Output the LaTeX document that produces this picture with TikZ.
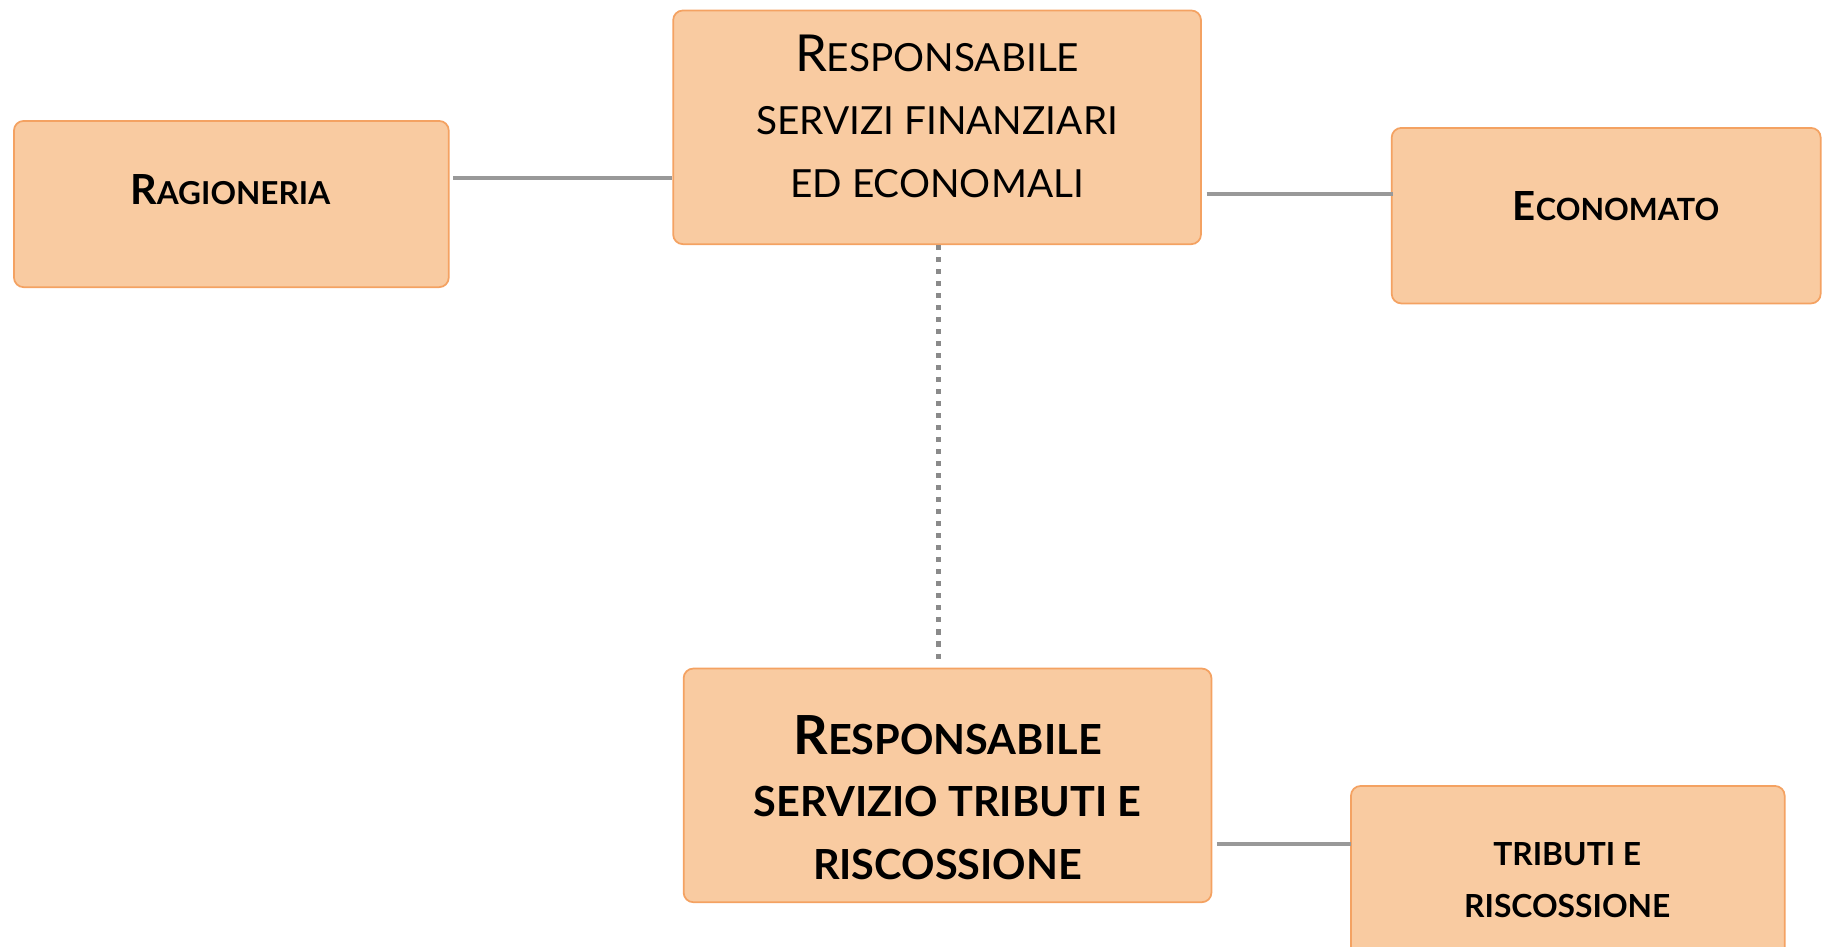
\documentclass[tikz,border=0pt]{standalone}
\usepackage{fontspec}
\setmainfont{Lato}
\usepackage{tikz}
\usetikzlibrary{positioning}
\usetikzlibrary{calc}

\definecolor{boxfill}{HTML}{F9CBA1}
\definecolor{boxline}{HTML}{F4A262}
\definecolor{linkgray}{HTML}{999999}

\tikzset{
  box/.style={draw=boxline, fill=boxfill, line width=0.9pt, rounded corners=5pt, inner sep=0pt},
  txt/.style={align=center, inner sep=0pt},
  link/.style={draw=linkgray, line width=2.4pt},
  duty/.style={draw=linkgray!90!black, line width=2.4pt, dash pattern=on 2.6pt off 3.6pt}
}

\begin{document}
\begin{tikzpicture}[x=0.6pt, y=-0.6pt]
\useasboundingbox (0,0) rectangle (1568,814);
% boxes
\node[box, minimum width=224.4pt, minimum height=85.8pt] (rag) at (199,175.5) {};
\node[box, minimum width=272.4pt, minimum height=120.6pt] (top) at (806,109.5) {};
\node[box, minimum width=221.4pt, minimum height=90.6pt] (eco) at (1381.5,185.5) {};
\node[box, minimum width=272.4pt, minimum height=120.6pt] (bot) at (815,675.5) {};
\node[box, minimum width=223.8pt, minimum height=92.4pt] (trib) at (1348.5,753) {};
% texts
\node[txt, font=\bfseries\fontsize{21.4}{28}\selectfont] (ragtxt) at (198,163) {R{\fontsize{16.3}{28}\selectfont AGIONERIA}};
\node[txt, font=\fontsize{26.3}{32.4}\selectfont] (toptxt) at (806,100) {R{\fontsize{20}{32.4}\selectfont ESPONSABILE}\\
  {\fontsize{20}{32.4}\selectfont SERVIZI FINANZIARI}\\
  {\fontsize{20}{32.4}\selectfont ED ECONOMALI}};
\node[txt, font=\bfseries\fontsize{20.7}{28}\selectfont] (ecotxt) at (1390,177) {E{\fontsize{15.8}{28}\selectfont CONOMATO}};
\node[txt, font=\bfseries\fontsize{27.8}{32.1}\selectfont] (bottxt) at (815,686) {R{\fontsize{21.4}{32.1}\selectfont ESPONSABILE}\\
  {\fontsize{21.4}{32.1}\selectfont SERVIZIO TRIBUTI E}\\
  {\fontsize{21.4}{32.1}\selectfont RISCOSSIONE}};
\node[txt, font=\bfseries\fontsize{16.4}{26.4}\selectfont] (tribtxt) at (1348,757) {TRIBUTI E\\ RISCOSSIONE};
% connectors
\draw[link] ($(rag.east)+(3,-22.5)$) -- ($(top.west)+(0,43.5)$);
\draw[link] ($(top.east)+(4,57.5)$) -- ($(eco.west)+(2,-18.5)$);
\draw[duty] ($(top.south)+(1,0)$) -- ($(bot.north)+(-8,-5)$);
\draw[link] ($(bot.east)+(4,50.5)$) -- ($(trib.west)+(1,-27)$);
\end{tikzpicture}
\end{document}
